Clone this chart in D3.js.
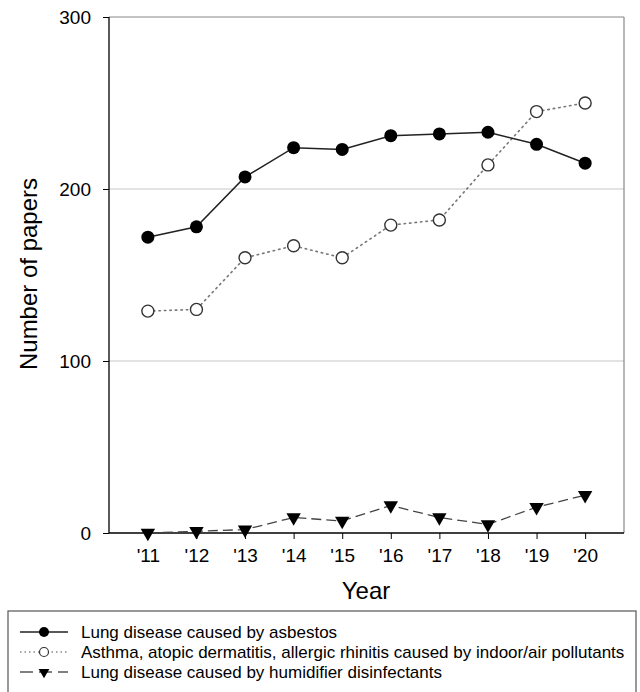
<!DOCTYPE html>
<html><head><meta charset="utf-8">
<script src="https://cdn.jsdelivr.net/npm/d3@7"></script>
<style>body{margin:0;background:#fff}svg{display:block;font-family:"Liberation Sans",Arial,sans-serif}</style>
</head><body><svg id="c" width="640" height="692"></svg>
<script>
const years = [2011,2012,2013,2014,2015,2016,2017,2018,2019,2020];
const yearLabels = ["'11","'12","'13","'14","'15","'16","'17","'18","'19","'20"];
const asbestos = [172,178,207,224,223,231,232,233,226,215];
const asthma = [129,130,160,167,160,179,182,214,245,250];
const humidifier = [0,1,2,9,7,16,9,5,15,22];
const yTicks = [0,100,200,300];
const seriesNames = ["Lung disease caused by asbestos","Asthma, atopic dermatitis, allergic rhinitis caused by indoor/air pollutants","Lung disease caused by humidifier disinfectants"];

const svg = d3.select("#c");
const L=109,R=624,T=17,B=533;
const x = d3.scaleLinear().domain([2010.2,2020.8]).range([L,R]);
const y = d3.scaleLinear().domain([0,300]).range([B,T]);

// grid
svg.append("g").selectAll("line").data([100,200]).join("line")
  .attr("x1",L).attr("x2",R).attr("y1",d=>y(d)).attr("y2",d=>y(d))
  .attr("stroke","#c8c8c8").attr("stroke-width",1.2);
// frame top/right
svg.append("line").attr("x1",L).attr("x2",R).attr("y1",T).attr("y2",T).attr("stroke","#888").attr("stroke-width",1.2);
svg.append("line").attr("x1",R).attr("x2",R).attr("y1",T).attr("y2",B).attr("stroke","#888").attr("stroke-width",1.2);

// axes
const ya = svg.append("g").attr("transform",`translate(${L},0)`)
  .call(d3.axisLeft(y).tickValues(yTicks).tickSize(6).tickPadding(12));
const xa = svg.append("g").attr("transform",`translate(0,${B})`)
  .call(d3.axisBottom(x).tickValues(years).tickFormat((d,i)=>yearLabels[i]).tickSize(6).tickPadding(10));
[ya,xa].forEach(a=>{a.select(".domain").attr("stroke","#000").attr("stroke-width",1.3);
  a.selectAll(".tick line").attr("stroke","#000");
  a.selectAll("text").attr("font-size",19).attr("fill","#000").attr("font-family","Liberation Sans, Arial, sans-serif");});
xa.select(".domain").attr("d",`M${L},0H${R}`);
ya.select(".domain").attr("d",`M0,${B}V${T}`);

svg.append("text").attr("x",366).attr("y",599).attr("text-anchor","middle").attr("font-size",24).text("Year");
svg.append("text").attr("transform","translate(37,274) rotate(-90)").attr("text-anchor","middle").attr("font-size",24).text("Number of papers");

const line = d3.line().x((d,i)=>x(years[i])).y(d=>y(d));
svg.append("path").datum(asthma).attr("d",line).attr("fill","none").attr("stroke","#777").attr("stroke-width",1.6).attr("stroke-dasharray","1.5,4").attr("stroke-linecap","round");
svg.append("path").datum(humidifier).attr("d",line).attr("fill","none").attr("stroke","#444").attr("stroke-width",1.3).attr("stroke-dasharray","10,5");
svg.append("path").datum(asbestos).attr("d",line).attr("fill","none").attr("stroke","#222").attr("stroke-width",1.5);

svg.append("g").selectAll("circle").data(asbestos).join("circle")
  .attr("cx",(d,i)=>x(years[i])).attr("cy",d=>y(d)).attr("r",6.5).attr("fill","#000");
svg.append("g").selectAll("circle").data(asthma).join("circle")
  .attr("cx",(d,i)=>x(years[i])).attr("cy",d=>y(d)).attr("r",6).attr("fill","#fff").attr("stroke","#333").attr("stroke-width",1.4);
const tri = d3.symbol().type(d3.symbolTriangle).size(90);
svg.append("g").selectAll("path").data(humidifier).join("path")
  .attr("d",tri).attr("transform",(d,i)=>`translate(${x(years[i])},${y(d)}) rotate(180)`).attr("fill","#000");

// legend
const lg = svg.append("g");
lg.append("rect").attr("x",8).attr("y",611).attr("width",628).attr("height",90).attr("fill","none").attr("stroke","#555").attr("stroke-width",1.2);
const ly = [632,652,672];
const styles = [{c:"#222",da:null,w:1.5},{c:"#888",da:"1.5,3",w:1.4},{c:"#555",da:"13,6",w:1.3}];
seriesNames.forEach((n,i)=>{
  const s=styles[i];
  const l=lg.append("line").attr("x1",20).attr("x2",68).attr("y1",ly[i]).attr("y2",ly[i]).attr("stroke",s.c).attr("stroke-width",s.w);
  if(s.da) l.attr("stroke-dasharray",s.da);
  if(i===0) lg.append("circle").attr("cx",44).attr("cy",ly[i]).attr("r",5).attr("fill","#000");
  if(i===1) lg.append("circle").attr("cx",44).attr("cy",ly[i]).attr("r",4.5).attr("fill","#fff").attr("stroke","#333").attr("stroke-width",1.2);
  if(i===2) lg.append("path").attr("d",d3.symbol().type(d3.symbolTriangle).size(50)).attr("transform",`translate(44,${ly[i]}) rotate(180)`).attr("fill","#000");
  lg.append("text").attr("x",81).attr("y",ly[i]+6).attr("font-size",17).text(n);
});
</script></body></html>
